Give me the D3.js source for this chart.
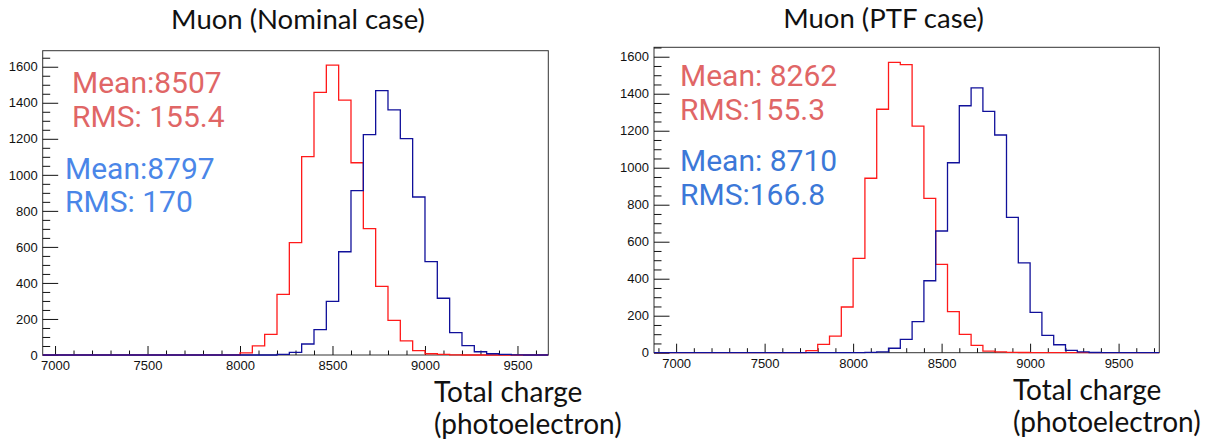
<!DOCTYPE html>
<html>
<head>
<meta charset="utf-8">
<script src="https://cdn.jsdelivr.net/npm/d3@7"></script>
<style>
  body { margin: 0; background: #fff; }
  svg { display: block; }
</style>
</head>
<body>
<svg id="chart" width="1220" height="447"></svg>
<script>
// Histogram bin width (photoelectrons)
const binWidth = 200 / 3;

// Nominal case
const nominalAxisRange = [6933.33, 9666.67];
const nominalYMax = 1689;
const nominalRedStart = 8000;
const nominalRed = [12, 51, 114, 336, 624, 1101, 1458, 1609, 1415, 1067, 701, 381, 192, 78, 24, 7, 3, 1];
const nominalBlueStart = 8200;
const nominalBlue = [4, 15, 61, 141, 298, 573, 912, 1223, 1467, 1361, 1201, 877, 518, 315, 124, 52, 18, 7, 3, 1];

// PTF case
const ptfAxisRange = [6875, 9730];
const ptfYMax = 1651;
const ptfRedStart = 7733.33;
const ptfRed = [11, 45, 90, 247, 510, 943, 1316, 1570, 1557, 1225, 834, 478, 222, 99, 40, 9, 5, 2, 1];
const ptfBlueStart = 8066.67;
const ptfBlue = [2, 5, 24, 72, 168, 389, 658, 1027, 1335, 1432, 1305, 1177, 732, 486, 218, 94, 43, 13, 4, 1];

// Axis ticks
const xTickValues = [7000, 7500, 8000, 8500, 9000, 9500];
const yTickValues = [0, 200, 400, 600, 800, 1000, 1200, 1400, 1600];

// Text
const panelTitles = ["Muon (Nominal case)", "Muon (PTF case)"];
const axisTitleLines = ["Total charge", "(photoelectron)"];
const nominalStats = [["Mean:8507", "RMS: 155.4"], ["Mean:8797", "RMS: 170"]];
const ptfStats = [["Mean: 8262", "RMS:155.3"], ["Mean: 8710", "RMS:166.8"]];

const svg = d3.select("#chart");
svg.append("rect").attr("width", 1220).attr("height", 447).attr("fill", "#fff");

const panels = [
  {
    frame: { left: 42.7, top: 50.7, right: 548.3, bottom: 355 },
    xRange: nominalAxisRange, yMax: nominalYMax,
    red: { start: nominalRedStart, counts: nominalRed },
    blue: { start: nominalBlueStart, counts: nominalBlue },
    title: panelTitles[0], titleX: 298, titleY: 29,
    stats: nominalStats,
    statPos: [{ x: 72, y: [92.5, 126.5] }, { x: 65, y: [178.5, 212] }],
    statColors: ["#e06666", "#4a86e8"],
    axisTitle: { x: 434, y: [402, 434] }
  },
  {
    frame: { left: 654, top: 47.3, right: 1159.3, bottom: 352.7 },
    xRange: ptfAxisRange, yMax: ptfYMax,
    red: { start: ptfRedStart, counts: ptfRed },
    blue: { start: ptfBlueStart, counts: ptfBlue },
    title: panelTitles[1], titleX: 883.5, titleY: 28,
    stats: ptfStats,
    statPos: [{ x: 680, y: [86, 120] }, { x: 680, y: [171, 205] }],
    statColors: ["#e06666", "#3c78d8"],
    axisTitle: { x: 1013, y: [400, 432] }
  }
];

function stepPoints(hist, domain) {
  const pts = [[domain[0], 0], [hist.start, 0]];
  hist.counts.forEach((c, i) => {
    const lo = hist.start + i * binWidth;
    pts.push([lo, c], [lo + binWidth, c]);
  });
  pts.push([hist.start + hist.counts.length * binWidth, 0], [domain[1], 0]);
  return pts;
}

const intFormat = d3.format("d");

panels.forEach((p, idx) => {
  const f = p.frame;
  const x = d3.scaleLinear().domain(p.xRange).range([f.left, f.right]);
  const y = d3.scaleLinear().domain([0, p.yMax]).range([f.bottom, f.top]);
  const g = svg.append("g");

  // frame
  g.append("rect")
    .attr("x", f.left).attr("y", f.top)
    .attr("width", f.right - f.left).attr("height", f.bottom - f.top)
    .attr("fill", "none").attr("stroke", "#333").attr("stroke-width", 1);

  const clipId = "clip" + idx;
  svg.append("clipPath").attr("id", clipId).append("rect")
    .attr("x", f.left).attr("y", f.top - 1)
    .attr("width", f.right - f.left).attr("height", f.bottom - f.top + 2);

  // minor ticks
  const xMinor = d3.range(Math.ceil(p.xRange[0] / 100) * 100, p.xRange[1], 100)
    .filter(v => v % 500 !== 0);
  const yMinor = d3.range(50, p.yMax, 50).filter(v => v % 200 !== 0);

  const xMinorAxis = g.append("g").attr("transform", `translate(0,${f.bottom})`)
    .call(d3.axisBottom(x).tickValues(xMinor).tickSizeInner(-4.5).tickSizeOuter(0).tickFormat(""));
  const yMinorAxis = g.append("g").attr("transform", `translate(${f.left},0)`)
    .call(d3.axisLeft(y).tickValues(yMinor).tickSizeInner(-7.5).tickSizeOuter(0).tickFormat(""));

  // major ticks with labels
  const xAxis = g.append("g").attr("transform", `translate(0,${f.bottom})`)
    .call(d3.axisBottom(x).tickValues(xTickValues).tickFormat(intFormat)
      .tickSizeInner(-9).tickSizeOuter(0).tickPadding(6));
  const yAxis = g.append("g").attr("transform", `translate(${f.left},0)`)
    .call(d3.axisLeft(y).tickValues(yTickValues).tickFormat(intFormat)
      .tickSizeInner(-15.5).tickSizeOuter(0).tickPadding(5));

  [xMinorAxis, yMinorAxis, xAxis, yAxis].forEach(a => {
    a.select(".domain").remove();
    a.selectAll(".tick line").attr("stroke", "#111").attr("stroke-width", 1);
    a.selectAll(".tick text")
      .attr("fill", "#111")
      .style("font-family", "'Liberation Sans', Arial, sans-serif")
      .style("font-size", "13px");
  });

  // histograms
  const line = d3.line().x(d => x(d[0])).y(d => y(d[1]));
  const hg = g.append("g").attr("clip-path", `url(#${clipId})`);
  hg.append("path").attr("d", line(stepPoints(p.red, p.xRange)))
    .attr("fill", "none").attr("stroke", "#ff1a1a").attr("stroke-width", 1.3);
  hg.append("path").attr("d", line(stepPoints(p.blue, p.xRange)))
    .attr("fill", "none").attr("stroke", "#10109a").attr("stroke-width", 1.3);

  // panel title
  svg.append("text").attr("x", p.titleX).attr("y", p.titleY)
    .attr("text-anchor", "middle")
    .style("font-family", "Lato, 'Open Sans', sans-serif").style("font-size", "27.5px")
    .attr("fill", "#111").text(p.title);

  // statistics annotations
  p.stats.forEach((lines, k) => {
    lines.forEach((t, j) => {
      svg.append("text").attr("x", p.statPos[k].x).attr("y", p.statPos[k].y[j])
        .style("font-family", "Roboto, sans-serif").style("font-size", "30px")
        .attr("fill", p.statColors[k]).text(t);
    });
  });

  // x-axis title
  axisTitleLines.forEach((t, j) => {
    svg.append("text").attr("x", p.axisTitle.x).attr("y", p.axisTitle.y[j])
      .style("font-family", "Lato, 'Open Sans', sans-serif").style("font-size", "28px")
      .attr("fill", "#111").text(t);
  });
});
</script>
</body>
</html>
